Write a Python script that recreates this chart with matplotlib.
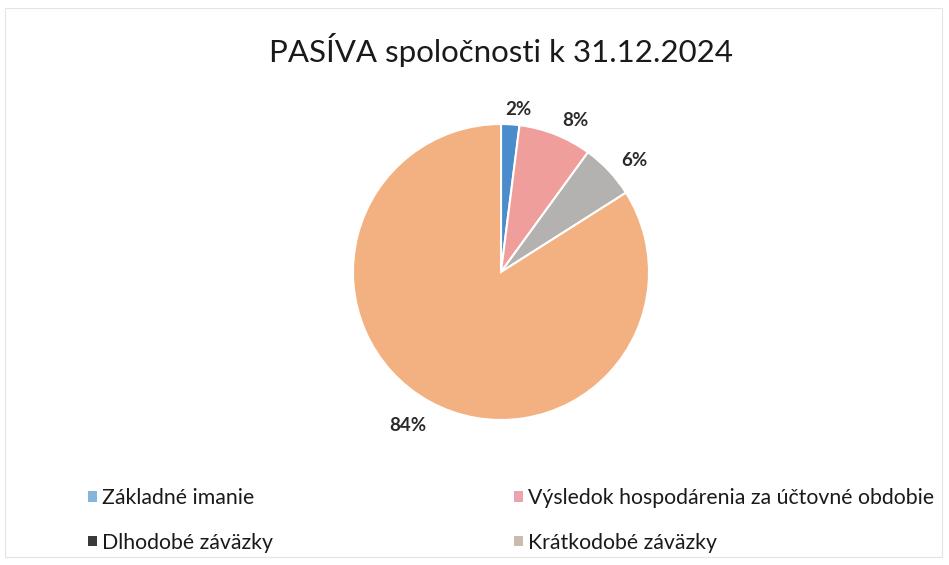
import matplotlib
matplotlib.use("Agg")
import matplotlib.pyplot as plt
from matplotlib.patches import Patch, Rectangle

title = "PASÍVA spoločnosti k 31.12.2024"
categories = ["Základné imanie", "Výsledok hospodárenia za účtovné obdobie",
              "Dlhodobé záväzky", "Krátkodobé záväzky"]
values = [2, 8, 6, 84]
slice_colors = ["#4B8DCB", "#F09E9B", "#B4B2B0", "#F3B080"]
legend_colors = ["#85B5DA", "#EBA3AE", "#3A3A3A", "#C9BBAE"]

plt.rcParams['font.family'] = ['Lato', 'DejaVu Sans']

W, H = 949, 565
fig = plt.figure(figsize=(W / 100, H / 100), dpi=100)
fig.patch.set_facecolor("white")

# faint chart frame
fig.add_artist(Rectangle((5 / W, 8 / H), (W - 12) / W, (H - 16) / H,
                         transform=fig.transFigure, fill=False,
                         edgecolor="#E4E4E4", linewidth=0.8))

cx, cy, r = 501, 272, 148
ax = fig.add_axes([(cx - r) / W, (H - cy - r) / H, 2 * r / W, 2 * r / H])

wedges, texts, autotexts = ax.pie(
    values, colors=slice_colors, startangle=90, counterclock=False,
    radius=1, autopct=lambda p: f"{p:.0f}%", pctdistance=1.1,
    wedgeprops=dict(edgecolor="white", linewidth=1.5),
    textprops=dict(fontsize=13.5, color="#2A2A2A", fontweight="bold"))
ax.set_xlim(-1, 1)
ax.set_ylim(-1, 1)
ax.axis("off")
for t in autotexts:
    x, y = t.get_position()
    # Excel-style outside labels: push text box away from the pie
    sx = 1 if x > 0 else -1
    dx = (0.1 if abs(x) > 0.2 else 0.05) * sx
    dy = -0.07 if y < 0 else 0.0
    t.set_position((x + dx, y + dy))
    t.set_ha("center")
    t.set_va("center")
    t.set_clip_on(False)

fig.text(cx / W, 1 - 50 / H, title, ha="center", va="center",
         fontsize=22.5, color="#1A1A1A")

handles = [Patch(facecolor=c, edgecolor="none") for c in legend_colors]
order = [0, 2, 1, 3]
leg = fig.legend([handles[i] for i in order],
                 [categories[i] for i in order],
                 ncol=2, loc="upper left",
                 bbox_to_anchor=(88 / W, 1 - 488 / H),
                 borderaxespad=0, borderpad=0,
                 frameon=False, fontsize=15.3, handlelength=0.4,
                 handleheight=0.4, handletextpad=0.25,
                 columnspacing=11.35, labelspacing=1.16)
for t in leg.get_texts():
    t.set_color("#1A1A1A")

fig.savefig("out.png", dpi=100, facecolor="white")
